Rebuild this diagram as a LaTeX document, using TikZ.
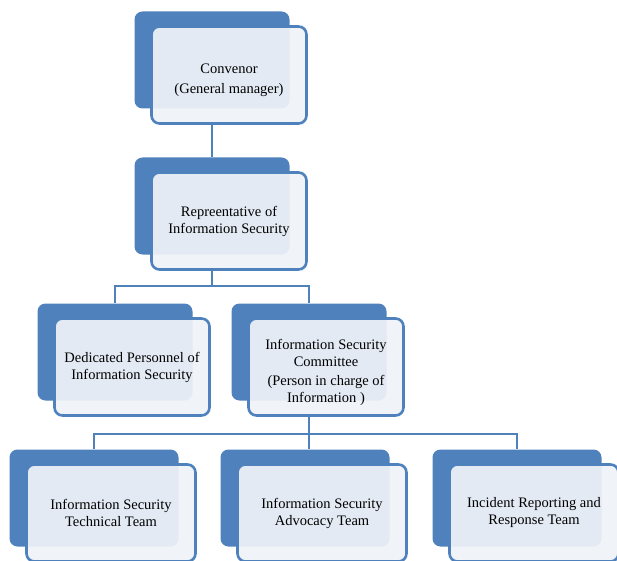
\documentclass[tikz,border=0pt]{standalone}
\usepackage{fontspec}
\setmainfont{Liberation Serif}
\usepackage{tikz}
\usetikzlibrary{positioning}
\usetikzlibrary{calc}
\definecolor{boxblue}{HTML}{4F81BD}
\definecolor{boxfill}{HTML}{EFF2F8}
\tikzstyle{backbox}=[fill=boxblue,rounded corners=8pt,minimum width=155pt,minimum height=97pt,inner sep=0pt]
\tikzstyle{frontbox}=[draw=boxblue,line width=2.6pt,fill=boxfill,fill opacity=0.93,text opacity=1,rounded corners=8pt,minimum width=155pt,minimum height=97pt,inner sep=0pt,align=center,font=\fontsize{14.5}{17}\selectfont]
\tikzstyle{link}=[boxblue,line width=2.6pt]
\newcommand{\topgap}{\rule{0pt}{21pt}}

\begin{document}
\begin{tikzpicture}[x=1pt,y=1pt]
\clip (0,0) rectangle (617,560);

% Convenor
\node[backbox] (conv) at (212,500) {};
\node[frontbox] (conv-f) at ($(conv)+(17,-15)$) {\topgap Convenor\\[3pt](General manager)};

% Representative
\node[backbox] (rep) at (212,354) {};
\node[frontbox] (rep-f) at ($(rep)+(17,-15)$) {Repreentative of\\Information Security};

% Second row
\node[backbox] (ded) at (115,208) {};
\node[frontbox] (ded-f) at ($(ded)+(17,-15)$) {Dedicated Personnel of\\Information Security};

\node[backbox] (isc) at (309,208) {};
\node[frontbox] (isc-f) at ($(isc)+(17,-15)$) {\topgap Information Security\\Committee\\[2pt](Person in charge of\\Information )};

% Teams
\node[backbox,minimum width=169pt] (tech) at (94,62) {};
\node[frontbox,minimum width=169pt] (tech-f) at ($(tech)+(17,-15)$) {Information Security\\Technical Team};

\node[backbox,minimum width=169pt] (adv) at (305,62) {};
\node[frontbox,minimum width=169pt] (adv-f) at ($(adv)+(17,-15)$) {Information Security\\Advocacy Team};

\node[backbox,minimum width=169pt] (inc) at (517,62) {};
\node[frontbox,minimum width=169pt] (inc-f) at ($(inc)+(17,-15)$) {Incident Reporting and\\Response Team};

% Connectors
\draw[link] (conv-f.south -| conv) -- (rep.north);

\draw[link] (rep-f.south -| rep) -- ++(0,-15) coordinate (j1);
\draw[link] (ded.north) |- (j1) -| (isc.north);

\draw[link] (isc-f.south -| isc) -- ++(0,-17) coordinate (j2);
\draw[link] (tech.north) |- (j2) -| (inc.north);
\draw[link] (j2) -- (j2 |- adv.north);

\end{tikzpicture}
\end{document}
